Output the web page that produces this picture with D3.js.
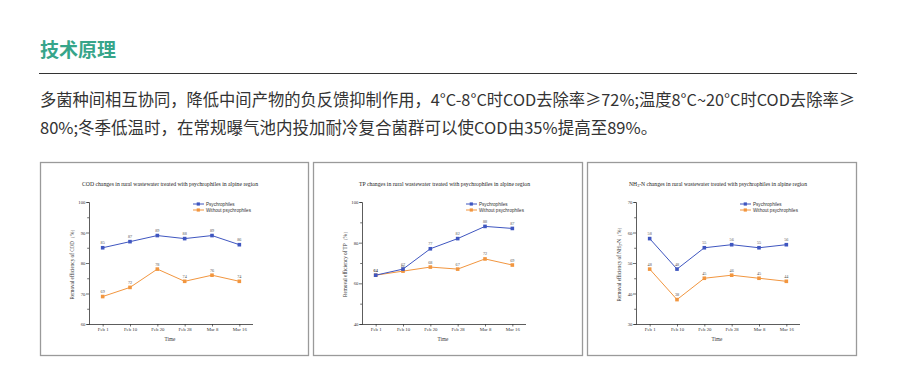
<!DOCTYPE html>
<html><head><meta charset="utf-8">
<script src="https://cdn.jsdelivr.net/npm/d3@7"></script>
<style>
html,body{margin:0;padding:0;background:#fff;}
svg{display:block;}
</style></head>
<body>
<script>
const headTitle = "技术原理";
const bodyLines = [
  "多菌种间相互协同，降低中间产物的负反馈抑制作用，4°C-8°C时COD去除率≥72%;温度8°C~20°C时COD去除率≥",
  "80%;冬季低温时，在常规曝气池内投加耐冷复合菌群可以使COD由35%提高至89%。"
];
const categories = ["Feb 1","Feb 10","Feb 20","Feb 28","Mar 8","Mar 16"];
const seriesNames = ["Psychrophiles","Without psychrophiles"];
const codWith = [85,87,89,88,89,86];
const codWithout = [69,72,78,74,76,74];
const tpWith = [64,67,77,82,88,87];
const tpWithout = [64,66,68,67,72,69];
const nhWith = [58,48,55,56,55,56];
const nhWithout = [48,38,45,46,45,44];
const codTicks = [60,70,80,90,100];
const tpTicks = [40,60,80,100];
const nhTicks = [30,40,50,60,70];

const colors = ["#3f56c0","#f2963f"];

const svg = d3.select("body").append("svg").attr("width",900).attr("height",379);
svg.append("rect").attr("width",900).attr("height",379).attr("fill","#fff");

// header
svg.append("text").attr("x",40).attr("y",57).attr("font-family","Noto Sans CJK SC")
  .attr("font-weight","bold").attr("font-size",19).attr("fill","#37a58a").text(headTitle);
svg.append("line").attr("x1",39).attr("x2",857).attr("y1",73.5).attr("y2",73.5)
  .attr("stroke","#333").attr("stroke-width",1.2);
svg.selectAll("text.body").data(bodyLines).join("text").attr("class","body")
  .attr("x",40).attr("y",(d,i)=>106+i*28)
  .attr("font-family","Noto Sans CJK SC").attr("font-size",16.5).attr("fill","#333")
  .attr("textLength",(d,i)=> i===0 ? 815 : null)
  .attr("lengthAdjust","spacingAndGlyphs")
  .text(d=>d);

const panels = [
  {x:40, w:269, title:"COD changes in rural wastewater treated with psychrophiles in alpine region", tl:176, tc:130,
   ylab:[{t:"Removal efficiency of COD（%）"}], dom:[60,100], ticks:codTicks, minor:5, a:codWith, b:codWithout},
  {x:313, w:270, title:"TP changes in rural wastewater treated with psychrophiles in alpine region", tl:171, tc:131.5,
   ylab:[{t:"Removal efficiency of TP（%）"}], dom:[40,100], ticks:tpTicks, minor:10, a:tpWith, b:tpWithout},
  {x:587, w:270, title:null, tl:178, tc:131,
   ylab:[{t:"Removal efficiency of NH"},{t:"3",sub:true},{t:"-N（%）"}], dom:[30,70], ticks:nhTicks, minor:5, a:nhWith, b:nhWithout}
];

const serif = "Liberation Serif, Times New Roman, serif";
const sans = "Liberation Sans, Arial, sans-serif";

panels.forEach(p=>{
  const g = svg.append("g");
  const top = 162;
  g.append("rect").attr("x",p.x+0.5).attr("y",top+0.5).attr("width",p.w-1).attr("height",193)
    .attr("fill","#fff").attr("stroke","#9a9a9a").attr("stroke-width",1.3);

  const x = d3.scalePoint().domain(categories).range([p.x+49,p.x+213]).padding(0.5);
  const y = d3.scaleLinear().domain(p.dom).range([324,202]);

  // title
  const tt = g.append("text").attr("x",p.x+p.tc).attr("y",186).attr("text-anchor","middle")
    .attr("font-family",serif).attr("font-size",5.6).attr("fill","#222")
    .attr("textLength",p.tl).attr("lengthAdjust","spacingAndGlyphs");
  if(p.title){ tt.text(p.title); }
  else {
    tt.append("tspan").text("NH");
    tt.append("tspan").attr("font-size",4).attr("dy",1.2).text("3");
    tt.append("tspan").attr("dy",-1.2).text("-N changes in rural wastewater treated with psychrophiles in alpine region");
  }

  // axes
  const minorTicks = d3.range(p.dom[0], p.dom[1]+0.001, p.minor);
  const ya = g.append("g").attr("transform",`translate(${p.x+49},0)`)
    .call(d3.axisLeft(y).tickValues(minorTicks).tickSize(2).tickFormat(v=>p.ticks.includes(v)?v:""));
  ya.selectAll(".tick line").attr("x2",v=>p.ticks.includes(v)?-3:-1.8);
  const xa = g.append("g").attr("transform",`translate(0,324)`)
    .call(d3.axisBottom(x).tickSize(2.5).tickSizeOuter(0));
  xa.select(".domain").attr("d",`M${p.x+49},0.5H${p.x+213}`);
  [ya,xa].forEach(a=>{
    a.select(".domain").attr("stroke","#333").attr("stroke-width",0.8);
    a.selectAll(".tick line").attr("stroke","#333").attr("stroke-width",0.7);
    a.selectAll(".tick text").attr("font-family",serif).attr("font-size",4.8).attr("fill","#333");
  });
  ya.selectAll(".tick text").attr("x",-3.5);
  xa.selectAll(".tick text").attr("y",4);

  // axis titles
  g.append("text").attr("x",p.x+130).attr("y",341).attr("text-anchor","middle")
    .attr("font-family",serif).attr("font-size",5.2).attr("fill","#333").text("Time");
  const yl = g.append("text").attr("transform",`translate(${p.x+34},263) rotate(-90)`)
    .attr("text-anchor","middle").attr("font-family",serif).attr("font-size",5.2).attr("fill","#333");
  p.ylab.forEach(s=>{
    const ts = yl.append("tspan").text(s.t);
    if(s.sub) ts.attr("font-size",3.8).attr("dy",1.2);
    else if(yl.selectAll("tspan").size()>1 && s.t.startsWith("-")) ts.attr("dy",-1.2);
  });

  // series
  [p.b,p.a].forEach((vals,k)=>{
    const ci = k===0?1:0;
    const line = d3.line().x((d,i)=>x(categories[i])).y(d=>y(d));
    g.append("path").attr("d",line(vals)).attr("fill","none")
      .attr("stroke",colors[ci]).attr("stroke-width",1);
    g.selectAll(null).data(vals).join("rect")
      .attr("x",(d,i)=>x(categories[i])-1.8).attr("y",d=>y(d)-1.8)
      .attr("width",3.6).attr("height",3.6).attr("fill",colors[ci]);
    g.selectAll(null).data(vals).join("text")
      .attr("x",(d,i)=>x(categories[i])).attr("y",d=>y(d)-3.5).attr("text-anchor","middle")
      .attr("font-family",serif).attr("font-size",4.2).attr("fill","#555").text(d=>d);
  });

  // legend
  seriesNames.forEach((n,i)=>{
    const ly = 204 + i*6;
    g.append("line").attr("x1",p.x+153).attr("x2",p.x+164).attr("y1",ly).attr("y2",ly)
      .attr("stroke",colors[i]).attr("stroke-width",1);
    g.append("rect").attr("x",p.x+156.7).attr("y",ly-1.6).attr("width",3.2).attr("height",3.2).attr("fill",colors[i]);
    g.append("text").attr("x",p.x+166).attr("y",ly+1.6).attr("font-family",sans)
      .attr("font-size",4.6).attr("fill","#333").text(n);
  });
});
</script>
</body></html>
